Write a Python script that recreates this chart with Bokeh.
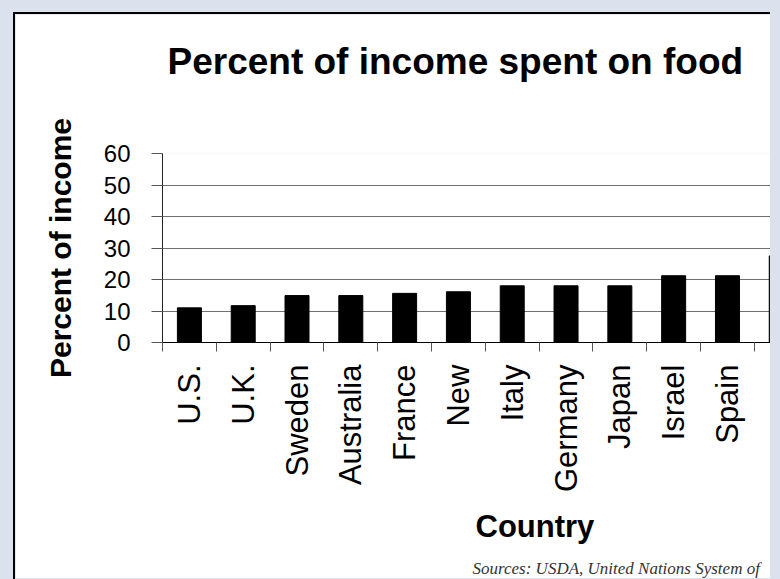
import math
from bokeh.plotting import figure
from bokeh.models import Range1d, FixedTicker, Title, ColumnDataSource, GlobalInlineStyleSheet
from bokeh.embed import file_html
from bokeh.resources import INLINE

# ---- data ----
countries = ["U.S.", "U.K.", "Sweden", "Australia", "France", "New",
             "Italy", "Germany", "Japan", "Israel", "Spain", "Greece"]
percent = [11.0, 11.7, 14.9, 14.9, 15.6, 16.1, 18.0, 18.0, 18.0, 21.2, 21.2, 27.5]
y_ticks = [0, 10, 20, 30, 40, 50, 60]
title_text = "Percent of income spent on food"
x_title = "Country"
y_title = "Percent of income"
source_note = "Sources: USDA, United Nations System of"

FONT = "Liberation Sans"

centers = [i + 0.5 for i in range(len(countries))]
bounds = list(range(len(countries) + 1))
src = ColumnDataSource(dict(x=centers, top=percent, country=countries))

css = GlobalInlineStyleSheet(css=(
    "html, body {background: #dce2ed;} "
    "body {margin: 12px 10px 0 13px; border-left: 2px solid #000; border-top: 2px solid #000;}"
))

p = figure(width=755, height=564,
           x_range=Range1d(0, 11.30), y_range=Range1d(0, 60),
           output_backend="svg", toolbar_location=None,
           min_border_left=147, min_border_right=0,
           min_border_top=139, min_border_bottom=235,
           background_fill_color="white", border_fill_color="white",
           outline_line_color=None)
p.stylesheets = [css]
p.title = None

p.vbar(x="x", top="top", width=0.446, bottom=0, source=src,
       fill_color="black", line_color="black")

# spacer between the frame and the title, then the title itself
p.add_layout(Title(text=" ", text_font_size="1px", standoff=69), "above")
p.add_layout(Title(text=title_text, align="left", offset=5, text_font=FONT,
                   text_font_style="bold", text_font_size="37px",
                   text_color="black", standoff=0), "above")

# y axis
ya = p.yaxis[0]
ya.ticker = FixedTicker(ticks=y_ticks)
ya.axis_label = y_title
ya.axis_label_text_font = FONT
ya.axis_label_text_font_style = "bold"
ya.axis_label_text_font_size = "30px"
ya.axis_label_text_color = "black"
ya.axis_label_standoff = 24
ya.major_label_text_font = FONT
ya.major_label_text_font_size = "24px"
ya.major_label_text_color = "black"
ya.major_label_standoff = 21
ya.major_tick_out = 11
ya.major_tick_in = 0
ya.minor_tick_line_color = None
ya.axis_line_color = "#222222"
ya.major_tick_line_color = "#555555"

# x axis: labels at centres, ticks at category boundaries
xa = p.xaxis[0]
xa.ticker = FixedTicker(ticks=centers, minor_ticks=bounds)
xa.major_label_overrides = {c: n for c, n in zip(centers, countries)}
xa.major_label_orientation = math.pi / 2
xa.major_label_text_font = FONT
xa.major_label_text_font_size = "31px"
xa.major_label_text_color = "black"
xa.major_label_standoff = 13
xa.major_tick_line_color = None
xa.major_tick_out = 0
xa.major_tick_in = 0
xa.minor_tick_out = 9
xa.minor_tick_in = 0
xa.minor_tick_line_color = "#555555"
xa.axis_line_color = "black"

p.xgrid.grid_line_color = None
p.ygrid.ticker = FixedTicker(ticks=y_ticks)
p.ygrid.grid_line_color = "#707070"
p.ygrid.grid_line_width = 1

# x axis title and sources note below
p.add_layout(Title(text=x_title, align="left", offset=313, text_font=FONT,
                   text_font_style="bold", text_font_size="31px",
                   text_color="black", standoff=24), "below")
p.add_layout(Title(text=source_note, align="left", offset=310,
                   text_font="Liberation Serif", text_font_style="italic",
                   text_font_size="17px", text_color="#333333", standoff=2), "below")

open("out.html", "w").write(file_html(p, INLINE))
